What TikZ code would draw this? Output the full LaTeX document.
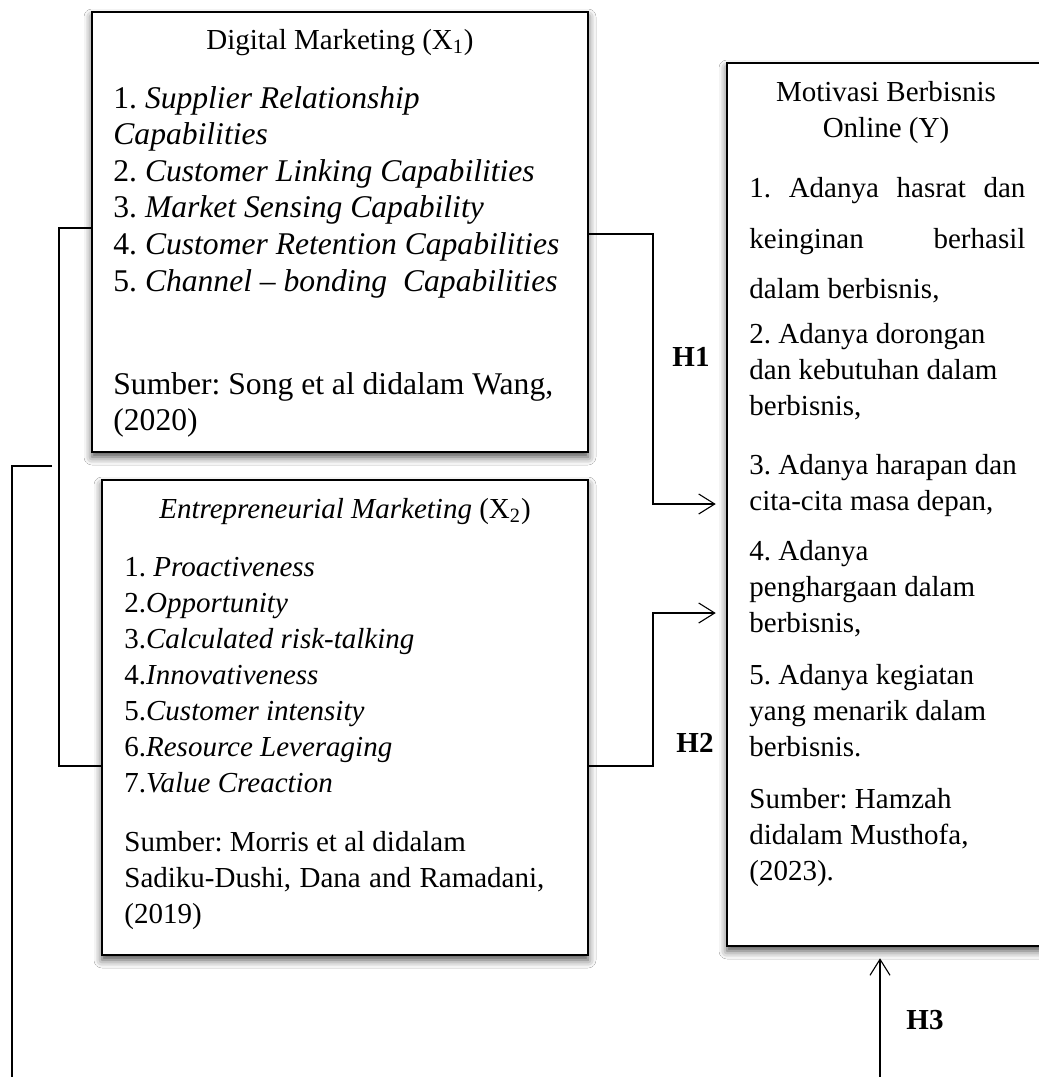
\documentclass[tikz,border=0pt]{standalone}
\usepackage{fontspec}
\setmainfont{Liberation Serif}
\usetikzlibrary{arrows.meta,shadows.blur}
\frenchspacing
\tikzset{
  box/.style={draw, line width=1.25pt, fill=white, inner sep=0pt,
    blur shadow={shadow xshift=0pt, shadow yshift=-2.5pt, shadow blur radius=4pt, shadow opacity=70}},
  txt/.style={anchor=base west, inner sep=0pt, font=\fontsize{14.5}{17}\selectfont},
  bigtxt/.style={anchor=base west, inner sep=0pt, font=\fontsize{15.8}{18}\selectfont},
  ttl/.style={anchor=base, inner sep=0pt, font=\fontsize{14.5}{17}\selectfont},
  hlab/.style={anchor=base, inner sep=0pt, font=\fontsize{14.5}{17}\selectfont\bfseries},
  conn/.style={line width=0.55pt},
  arr/.style={conn, -{Straight Barb[length=8pt,width=10pt]}, shorten >=5pt},
}
\begin{document}
\begin{tikzpicture}[x=0.5pt,y=-0.5pt]
\useasboundingbox (0,0) rectangle (1039,1077);
\clip (0,0) rectangle (1039,1077);
\fill[white] (0,0) rectangle (1039,1077);

% boxes
\node[box, minimum width=248pt, minimum height=220pt] (x1) at (340,232) {};
\node[box, minimum width=243pt, minimum height=237.5pt] (x2) at (345,717.5) {};
\node[box, minimum width=160pt, minimum height=441.5pt] (y) at (887,504.5) {};

% X1 text
\node[ttl] (x1title) at (340,49) {Digital Marketing (X\textsubscript{1})};
\foreach \t/\yy [count=\i] in {
  {1. \textit{Supplier Relationship}}/108,
  {\textit{Capabilities}}/144.6,
  {2. \textit{Customer Linking Capabilities}}/181.2,
  {3. \textit{Market Sensing Capability}}/217.8,
  {4. \textit{Customer Retention Capabilities}}/254.4,
  {5. \textit{Channel – bonding~~Capabilities}}/291,
  {Sumber: Song et al didalam Wang,}/394,
  {(2020)}/430.6}
  \node[bigtxt] (x1t\i) at (113,\yy) {\t};

% X2 text
\node[ttl] (x2title) at (345,518) {\textit{Entrepreneurial Marketing} (X\textsubscript{2})};
\foreach \t/\yy [count=\i] in {
  {1. \textit{Proactiveness}}/576,
  {2.\textit{Opportunity}}/612,
  {3.\textit{Calculated risk-talking}}/648,
  {4.\textit{Innovativeness}}/684,
  {5.\textit{Customer intensity}}/720,
  {6.\textit{Resource Leveraging}}/756,
  {7.\textit{Value Creaction}}/792,
  {Sumber: Morris et al didalam}/851,
  {\makebox[210pt][s]{Sadiku-Dushi, Dana and Ramadani,}}/887,
  {(2019)}/923}
  \node[txt] (x2t\i) at (124,\yy) {\t};

% Y text
\node[ttl] (ytitle1) at (886,101) {Motivasi Berbisnis};
\node[ttl] (ytitle2) at (886,137) {Online (Y)};
\foreach \t/\yy [count=\i] in {
  {\makebox[138pt][s]{1. Adanya hasrat dan}}/197,
  {\makebox[138pt][s]{keinginan berhasil}}/248,
  {dalam berbisnis,}/298,
  {2. Adanya dorongan}/343,
  {dan kebutuhan dalam}/379,
  {berbisnis,}/415,
  {3. Adanya harapan dan}/474,
  {cita-cita masa depan,}/510,
  {4. Adanya}/560,
  {penghargaan dalam}/596,
  {berbisnis,}/632,
  {5. Adanya kegiatan}/684,
  {yang menarik dalam}/720,
  {berbisnis.}/756,
  {Sumber: Hamzah}/808,
  {didalam Musthofa,}/844,
  {(2023).}/880}
  \node[txt] (yt\i) at (749,\yy) {\t};

% hypothesis labels
\node[hlab] (h1) at (691,366) {H1};
\node[hlab] (h2) at (695,752) {H2};
\node[hlab] (h3) at (925,1029) {H3};

% connectors
\draw[conn] (x1.west |- 0,228) -- (59,228) -- (59,766) -- (x2.west |- 0,766);
\draw[arr] (x1.east |- 0,234) -- (653,234) |- (y.west |- 0,504);
\draw[arr] (x2.east |- 0,766) -- (653,766) |- (y.west |- 0,613);
\coordinate (h3start) at (52,466);
\draw[arr, shorten >=5.5pt] (h3start) -- (12,466) -- (12,1110) -- (880,1110) -- (y.south -| 880,0);
\end{tikzpicture}
\end{document}
